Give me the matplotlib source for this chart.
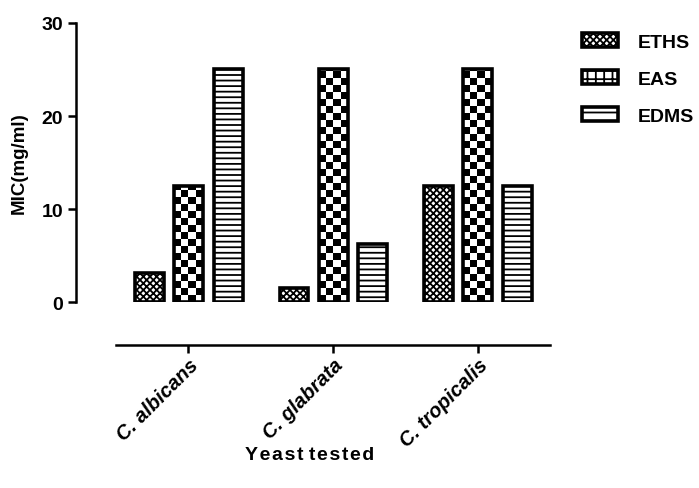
import numpy as np
import matplotlib
matplotlib.use("Agg")
import matplotlib.pyplot as plt
from matplotlib.patches import Patch

categories = ["C. albicans", "C. glabrata", "C. tropicalis"]
series_names = ["ETHS", "EAS", "EDMS"]
eths = [3.125, 1.5625, 12.5]
eas = [12.5, 25, 25]
edms = [25, 6.25, 12.5]
yticks = [0, 10, 20, 30]

plt.rcParams['font.family'] = ['Liberation Sans', 'DejaVu Sans']
plt.rcParams['hatch.linewidth'] = 1.3
plt.rcParams['hatch.color'] = 'black'

fig = plt.figure(figsize=(6.99, 4.89), dpi=100)
ax = fig.add_axes([0.166, 0.380, 0.621, 0.571])

x = np.arange(len(categories))
w = 0.2
off = [-0.27, 0.0, 0.275]
hatches = ['xxxxx', None, '---']
allvals = [eths, eas, edms]
bars_all = []
for i, vals in enumerate(allvals):
    bars = ax.bar(x + off[i], vals, width=w, facecolor='white', edgecolor='black',
                  linewidth=2.6, hatch=hatches[i], zorder=3)
    bars_all.append(bars)

ax.set_xlim(-0.5, 2.5)
ax.set_ylim(0, 30)

# checkerboard texture for EAS bars
sq_x = 0.05
sq_y = 0.75
for b in bars_all[1]:
    x0, y0 = b.get_x(), b.get_y()
    bw, bh = b.get_width(), b.get_height()
    nx = int(np.ceil(bw / sq_x))
    ny = int(np.ceil(bh / sq_y))
    yy, xx = np.mgrid[0:ny, 0:nx]
    checker = ((xx + yy) % 2).astype(float)
    im = ax.imshow(checker, cmap='gray', extent=(x0, x0 + nx * sq_x, y0, y0 + ny * sq_y),
                   origin='lower', aspect='auto', interpolation='nearest', zorder=2.5)
    im.set_clip_path(b)
    b.set_facecolor('none')
ax.set_xlim(-0.5, 2.5)
ax.set_ylim(0, 30)

for s in ['top', 'right']:
    ax.spines[s].set_visible(False)
ax.spines['left'].set_position(('outward', 29))
ax.spines['bottom'].set_position(('outward', 31))
ax.spines['left'].set_linewidth(1.8)
ax.spines['bottom'].set_linewidth(1.8)
ax.spines['left'].set_bounds(0, 30)

ax.set_yticks(yticks)
ax.set_yticklabels([str(t) for t in yticks], fontsize=14, fontweight='bold')
ax.set_xticks(x)
ax.set_xticklabels(categories, fontsize=14.5, fontweight='bold', fontstyle='italic',
                   rotation=45, ha='right', rotation_mode='anchor')
ax.tick_params(axis='both', width=1.8, length=6)
ax.tick_params(axis='x', pad=1)
ax.tick_params(axis='y', pad=3)

ax.set_ylabel("MIC(mg/ml)", fontsize=13.5, fontweight='bold', labelpad=10)
ax.set_xlabel("Y e a s t  t e s t e d".replace(" ", "\u200a").replace("\u200a\u200a", " "),
              fontsize=14, fontweight='bold')
ax.xaxis.set_label_coords(0.447, -0.515)

handles = [Patch(facecolor='white', edgecolor='black', linewidth=2.6, hatch='xxxxx'),
           Patch(facecolor='white', edgecolor='black', linewidth=2.6, hatch='++'),
           Patch(facecolor='white', edgecolor='black', linewidth=2.6, hatch='--')]
leg = fig.legend(handles, series_names, loc='upper left', bbox_to_anchor=(0.833, 0.930),
                 frameon=False, prop={'weight': 'bold', 'size': 14},
                 handlelength=1.85, handleheight=0.7, labelspacing=1.0, handletextpad=1.0,
                 borderpad=0, borderaxespad=0)

fig.savefig("out.png", dpi=100)
